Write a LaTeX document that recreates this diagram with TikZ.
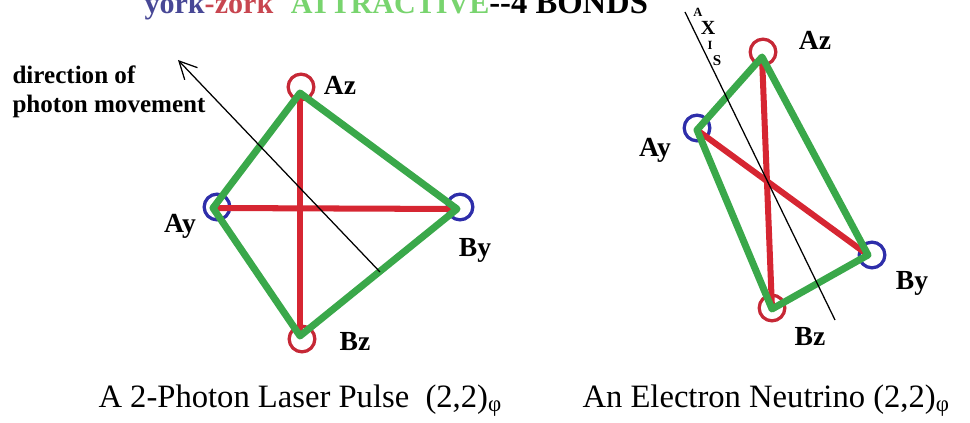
\documentclass[tikz,border=0pt]{standalone}
\usepackage{fontspec}
\setmainfont{Liberation Serif}
\usetikzlibrary{arrows.meta}

\definecolor{bondgreen}{RGB}{58,168,74}
\definecolor{bondred}{RGB}{214,38,50}
\definecolor{ringred}{RGB}{198,40,54}
\definecolor{ringblue}{RGB}{46,46,170}
\definecolor{yorkblue}{RGB}{72,72,150}
\definecolor{zorkred}{RGB}{200,70,80}
\definecolor{attgreen}{RGB}{120,212,110}

\tikzset{
  zring/.style={circle, draw=ringred, line width=1.3pt, minimum size=0.36cm, inner sep=0pt},
  yring/.style={zring, draw=ringblue},
  greenbond/.style={draw=bondgreen, line width=2.8pt, line join=round, line cap=round},
  redbond/.style={draw=bondred, line width=2.4pt},
  ptlabel/.style={font=\fontsize{11}{13}\selectfont\bfseries, inner sep=0pt},
  axletter/.style={font=\fontsize{5}{6}\selectfont\bfseries, inner sep=0pt},
  caption/.style={font=\fontsize{13}{15}\selectfont, anchor=base west, inner sep=0pt},
}

\begin{document}
\begin{tikzpicture}[x=0.014cm, y=-0.014cm, >={Straight Barb[length=7pt,width=7pt]}]
    \useasboundingbox (0,0) rectangle (970,423);
    \clip (0,0) rectangle (970,423);

    \node[anchor=base west, inner sep=0pt, font=\fontsize{12}{14}\selectfont\bfseries] (title) at (144,14)
        {\textcolor{yorkblue}{york}\textcolor{zorkred}{-zork}\hspace{7pt}\textcolor{attgreen}{ATTRACTIVE}{\fontsize{13}{14}\selectfont-{}-4 BONDS}};

    % 2-photon laser pulse
    \coordinate (LAz) at (300,93);
    \coordinate (LAy) at (213,208);
    \coordinate (LBy) at (457,209);
    \coordinate (LBz) at (300,336);
    \node[zring] (LAzr) at (301,87) {};
    \node[yring] (LAyr) at (217,207) {};
    \node[yring] (LByr) at (460,207) {};
    \node[zring] (LBzr) at (302,339) {};
    \draw[redbond] (LAy) -- (LBy);
    \draw[redbond] (LAz) -- (LBz);
    \draw[greenbond] (LAz) -- (LBy) -- (LBz) -- (LAy) -- cycle;
    \node[ptlabel] (LAzl) at (340,85) {Az};
    \node[ptlabel] (LAyl) at (180,226) {Ay};
    \node[ptlabel] (LByl) at (475,250) {By};
    \node[ptlabel] (LBzl) at (355,342) {Bz};

    \coordinate (ArrTail) at (380,272);
    \coordinate (ArrHead) at (178,60);
    \draw[->, line width=0.5pt] (ArrTail) -- (ArrHead);
    \node[anchor=base west, inner sep=0pt, align=left, font=\fontsize{10}{11.8}\selectfont\bfseries] (dirtext) at (12,113)
        {direction of\\photon movement};

    % electron neutrino
    \coordinate (RAz) at (762,57);
    \coordinate (RAy) at (697,130);
    \coordinate (RBy) at (868,255);
    \coordinate (RBz) at (772,309);
    \node[zring] (RAzr) at (763,52) {};
    \node[yring] (RAyr) at (697,128) {};
    \node[yring] (RByr) at (872,255) {};
    \node[zring] (RBzr) at (772,308) {};
    \draw[redbond] (RAy) -- (RBy);
    \draw[redbond] (RAz) -- (RBz);
    \draw[greenbond] (RAz) -- (RBy) -- (RBz) -- (RAy) -- cycle;
    \node[ptlabel] (RAzl) at (815,40) {Az};
    \node[ptlabel] (RAyl) at (655,150) {Ay};
    \node[ptlabel] (RByl) at (912,283) {By};
    \node[ptlabel] (RBzl) at (810,337) {Bz};

    \coordinate (AxTop) at (685,12);
    \coordinate (AxBot) at (835,320);
    \draw[line width=0.5pt] (AxTop) -- (AxBot);
    \node[axletter] (axA) at (698,12) {A};
    \node[axletter, font=\fontsize{8}{9}\selectfont\bfseries] (axX) at (708,28) {X};
    \node[axletter] (axI) at (710,45) {I};
    \node[axletter, font=\fontsize{6}{7}\selectfont\bfseries] (axS) at (717,61) {S};

    \node[caption] (cap1) at (98,407) {A 2-Photon Laser Pulse\ \ (2,2)\textsubscript{φ}};
    \node[caption] (cap2) at (582,407) {An Electron Neutrino (2,2)\textsubscript{φ}};
\end{tikzpicture}
\end{document}
